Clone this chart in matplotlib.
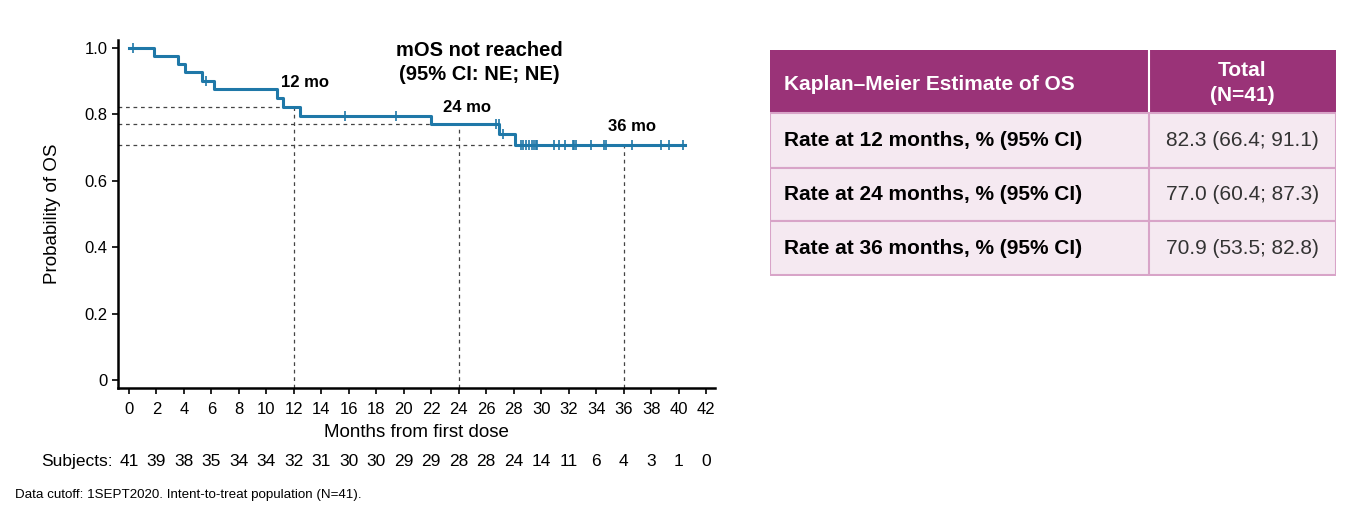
import matplotlib
matplotlib.use("Agg")
import matplotlib.pyplot as plt
from matplotlib.patches import Rectangle

plt.rcParams['font.family'] = ['Liberation Sans', 'DejaVu Sans']

# Kaplan-Meier steps (months, survival after the step)
step_times = [0, 1.8, 3.6, 4.1, 5.3, 6.2, 10.8, 11.2, 12.45, 22.0, 26.95, 28.1, 40.5]
step_surv = [1.0, 0.9756, 0.951, 0.927, 0.902, 0.877, 0.848, 0.823, 0.796, 0.770, 0.742, 0.709, 0.709]

# censor marks (months)
censor_times = [0.3, 5.6, 15.7, 19.45, 26.7, 26.9, 27.2, 28.5, 28.7, 28.9, 29.1, 29.3,
                29.5, 29.6, 29.7, 30.9, 31.3, 31.7, 32.3, 32.4, 32.5, 33.6, 34.6, 34.7,
                36.6, 38.7, 39.3, 40.3]

landmark_months = [12, 24, 36]
landmark_rates = [0.823, 0.770, 0.709]
landmark_labels = ['12 mo', '24 mo', '36 mo']

risk_months = list(range(0, 43, 2))
at_risk = [41, 39, 38, 35, 34, 34, 32, 31, 30, 30, 29, 29, 28, 28, 24, 14, 11, 6, 4, 3, 1, 0]

table_header = ['Kaplan\u2013Meier Estimate of OS', 'Total\n(N=41)']
table_rows = ['Rate at 12 months, % (95% CI)',
              'Rate at 24 months, % (95% CI)',
              'Rate at 36 months, % (95% CI)']
table_values = ['82.3 (66.4; 91.1)', '77.0 (60.4; 87.3)', '70.9 (53.5; 82.8)']

blue = '#1f78a8'
purple = '#9a3378'
pink_fill = '#f5e9f1'
pink_line = '#d8a4c8'

fig = plt.figure(figsize=(13.55, 5.13), dpi=100)
ax = fig.add_axes([118 / 1355, 1 - 388 / 513, 597 / 1355, 348 / 513])

def surv_at(t):
    s = 1.0
    for tt, ss in zip(step_times, step_surv):
        if tt <= t:
            s = ss
    return s

ax.step(step_times, step_surv, where='post', color=blue, lw=2.2, zorder=3)
ax.plot(censor_times, [surv_at(t) for t in censor_times], ls='none', marker='|',
        ms=7, mew=1.2, color=blue, zorder=4)

xmin, xmax = -0.8, 42.65
ymin, ymax = -0.024, 1.024
for m, r in zip(landmark_months, landmark_rates):
    ax.plot([xmin, m], [r, r], ls=(0, (3, 3)), color='#444444', lw=0.9, zorder=2)
    ax.plot([m, m], [ymin, r], ls=(0, (3, 3)), color='#444444', lw=0.9, zorder=2)

label_pos = [(12.8, 0.895), (24.6, 0.82), (36.6, 0.765)]
for (lx, ly), lab in zip(label_pos, landmark_labels):
    ax.text(lx, ly, lab, ha='center', va='center', fontsize=12, fontweight='bold')

ax.text(25.5, 0.957, 'mOS not reached\n(95% CI: NE; NE)', ha='center', va='center',
        fontsize=14.5, fontweight='bold', linespacing=1.35)

ax.set_xlim(xmin, xmax)
ax.set_ylim(ymin, ymax)
ax.set_xticks(risk_months)
ax.set_yticks([0, 0.2, 0.4, 0.6, 0.8, 1.0])
ax.set_yticklabels(['0', '0.2', '0.4', '0.6', '0.8', '1.0'])
ax.tick_params(labelsize=12, width=1.2, length=4)
ax.tick_params(axis='x', pad=6)
for s in ['top', 'right']:
    ax.spines[s].set_visible(False)
for s in ['left', 'bottom']:
    ax.spines[s].set_linewidth(1.8)
ax.set_xlabel('Months from first dose', fontsize=13.5, labelpad=5)
ax.set_ylabel('Probability of OS', fontsize=13.5, labelpad=17)

# number at risk row
ax.text(-1.2, -0.245, 'Subjects:', ha='right', va='center', fontsize=12.5, clip_on=False)
for m, n in zip(risk_months, at_risk):
    ax.text(m, -0.245, str(n), ha='center', va='center', fontsize=12.5, clip_on=False)

fig.text(15 / 1355, 1 - 495 / 513, 'Data cutoff: 1SEPT2020. Intent-to-treat population (N=41).',
         fontsize=9.6, va='center', ha='left')

# table
tx = fig.add_axes([770 / 1355, 1 - 276 / 513, 566 / 1355, 226 / 513])
tx.set_xlim(0, 566)
tx.set_ylim(226, 0)
tx.axis('off')
split = 379
row_edges = [0, 63, 118, 171, 225]
tx.add_patch(Rectangle((0, 0), 566, 63, facecolor=purple, edgecolor='none'))
tx.plot([split, split], [0, 63], color='white', lw=1.5)
for i in range(3):
    y0, y1 = row_edges[i + 1], row_edges[i + 2]
    tx.add_patch(Rectangle((0, y0), 566, y1 - y0, facecolor=pink_fill,
                           edgecolor=pink_line, lw=1.5))
    tx.plot([split, split], [y0, y1], color=pink_line, lw=1.5)
    yc = (y0 + y1) / 2
    tx.text(14, yc, table_rows[i], ha='left', va='center', fontsize=15, fontweight='bold')
    tx.text((split + 566) / 2, yc, table_values[i], ha='center', va='center',
            fontsize=15, color='#333333')
tx.text(14, 34, table_header[0], ha='left', va='center', fontsize=15,
        fontweight='bold', color='white')
tx.text((split + 566) / 2, 33, table_header[1], ha='center', va='center', fontsize=15,
        fontweight='bold', color='white', linespacing=1.35)

fig.savefig('out.png', dpi=100)
